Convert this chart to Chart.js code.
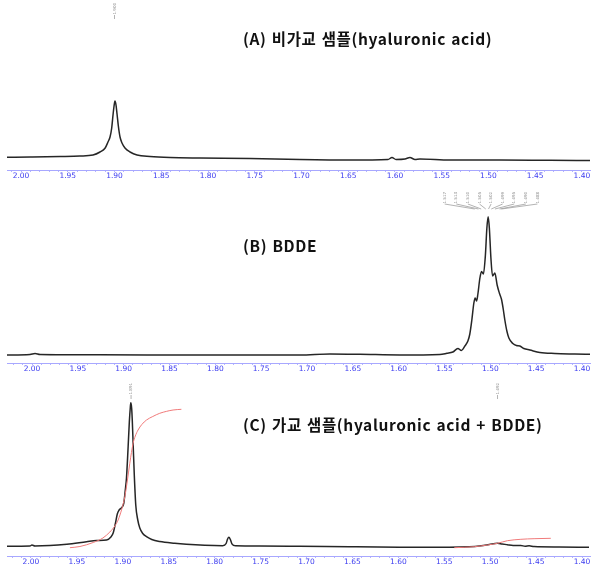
<!DOCTYPE html>
<html>
<head>
<meta charset="utf-8">
<script src="https://cdn.jsdelivr.net/npm/chart.js@4.4.1/dist/chart.umd.min.js"></script>
<style>
  body { margin: 0; background: #fff; }
  #wrap { position: relative; width: 595px; height: 567px; overflow: hidden; }
  canvas { position: absolute; left: 0; }
  .title {
    position: absolute; left: 243px; white-space: nowrap;
    font-family: "Noto Sans CJK KR", "Noto Sans", sans-serif;
    font-weight: bold; font-size: 15.5px; color: #111; line-height: 18px;
    letter-spacing: 0.65px; word-spacing: 1px;
  }
</style>
</head>
<body>
<div id="wrap">
  <canvas id="chartA" width="595" height="185" style="top:0px"></canvas>
  <canvas id="chartB" width="595" height="193" style="top:185px"></canvas>
  <canvas id="chartC" width="595" height="189" style="top:378px"></canvas>
  <div class="title" id="titleA" style="top:29px"></div>
  <div class="title" id="titleB" style="top:236px"></div>
  <div class="title" id="titleC" style="top:415px"></div>
</div>
<script>
// (A) hyaluronic acid - chemical shift (ppm) and intensity
var ppmA = [2.015, 1.990, 1.958, 1.937, 1.923, 1.9155, 1.910, 1.907, 1.9048, 1.903, 1.9016, 1.9005,
    1.8995, 1.8984, 1.8973, 1.8959, 1.8941, 1.892, 1.8888, 1.8834, 1.8759, 1.862, 1.8406, 1.8086,
    1.7551, 1.7016, 1.6481, 1.6075, 1.6032, 1.5989, 1.5893, 1.584, 1.5786, 1.5733, 1.5412,
    1.4877, 1.4342, 1.3914];
var intA = [0.7, 1.0, 1.5, 2.0, 3, 6, 10, 16, 21, 30, 43, 52,
    57, 53, 44, 32, 21, 15, 10, 6, 3, 1.5, 0.5, 0,
    -0.5, -1.5, -2, -1.5, 0.5, -1.5, -1, 0.5, -1.5, -1, -2,
    -2, -2.3, -2.5];

// (B) BDDE
var ppmB = [2.0273, 2.0022, 1.9967, 1.9913, 1.9258, 1.8168, 1.7077, 1.675, 1.6423, 1.5987, 1.5551,
    1.5474, 1.5409, 1.5354, 1.5316, 1.5278, 1.5245, 1.5224, 1.5202, 1.518, 1.5166, 1.515, 1.5136,
    1.5114, 1.5096, 1.5076, 1.5054, 1.5038, 1.5024, 1.5011, 1.4994, 1.4976, 1.4951, 1.4926, 1.4902,
    1.4878, 1.4858, 1.4842, 1.482, 1.4798, 1.4755, 1.4716, 1.4678, 1.4635, 1.4569, 1.446, 1.4297,
    1.4079, 1.3913];
var intB = [-0.5, 0, 1, 0, -0.3, -0.5, -0.5, 0.5, 0.2, -0.5, 0,
    1.2, 2.5, 6, 4, 8.5, 13.5, 20.5, 34.5, 51.5, 56.5, 53.5, 60.5,
    76.5, 83, 80.5, 99.5, 126.5, 137.8, 126.5, 96.5, 78.5, 81.5, 69.5, 61.5,
    55, 44.5, 34.5, 23.5, 16.5, 11, 9, 8.5, 6, 4.5, 2, 1,
    0.5, 0.2];

// (C) crosslinked sample (hyaluronic acid + BDDE)
var ppmC = [2.0261, 2.0011, 1.9989, 1.9957, 1.9609, 1.9395, 1.9286, 1.9177, 1.913, 1.9105, 1.9082,
    1.906, 1.904, 1.9016, 1.8989, 1.8973, 1.896, 1.8942, 1.8929, 1.8918, 1.8913, 1.8904, 1.8897,
    1.8886, 1.8875, 1.8859, 1.8837, 1.8815, 1.8783, 1.8742, 1.8685, 1.8598, 1.8435, 1.8308, 1.8109,
    1.7913, 1.7875, 1.7859, 1.7845, 1.7829, 1.7812, 1.7772, 1.7511, 1.7076, 1.6533, 1.5989, 1.5446,
    1.5228, 1.5098, 1.5011, 1.4921, 1.487, 1.4815, 1.475, 1.4666, 1.462, 1.4576, 1.4522, 1.425, 1.3924];
var intC = [0.2, 0.5, 1.5, 0.5, 2.2, 4.8, 6, 6.5, 9.5, 13.5, 22.5,
    32.5, 36.5, 38.5, 43.5, 56.5, 68.5, 99.8, 124.5, 139.5, 143.8, 138.5, 126.5,
    98.5, 71.5, 41.5, 26.5, 18.5, 13, 9.8, 7, 5, 3.2, 2.2, 1.2,
    0.8, 3, 7.5, 9.2, 7, 2.7, 0.7, 0.5, 0.2, -0.3, -0.7, -0.8,
    -0.3, 0.8, 2, 3.2, 2.5, 1.8, 1, 1, 0.2, 0.7, -0.1, -0.5, -0.8];

// (C) integral traces (red)
var ppmIntC1 = [1.9576, 1.9467, 1.9323, 1.9217, 1.9141, 1.9087, 1.9051, 1.9011, 1.8978, 1.8951,
    1.8924, 1.8888, 1.8864, 1.8834, 1.8793, 1.8742, 1.8674, 1.8598, 1.8522, 1.8453, 1.8362];
var valIntC1 = [-1.2, 0, 4, 8.5, 14.5, 20.5, 26.5, 37.5, 49.8, 65.5,
    83.2, 103.2, 110.5, 116.5, 122, 126.5, 130, 133.2, 135.2, 136.5, 137.2];
var ppmIntC2 = [1.5391, 1.5174, 1.5029, 1.4921, 1.4812, 1.4666, 1.4522, 1.434];
var valIntC2 = [-1.2, -0.2, 1.5, 3.2, 5.8, 7.2, 7.8, 8.2];

// peak pick labels
var peaksA = [1.900];
var peaksB = [1.517, 1.513, 1.510, 1.505, 1.502, 1.499, 1.495, 1.490, 1.488];
var peaksC = [1.891, 1.492];

var titles = [
    "(A)  비가교  샘플(hyaluronic acid)",
    "(B)  BDDE",
    "(C)  가교  샘플(hyaluronic acid  +  BDDE)"
];

document.getElementById("titleA").textContent = titles[0];
document.getElementById("titleB").textContent = titles[1];
document.getElementById("titleC").textContent = titles[2];

function toPoints(xs, ys) {
    return xs.map(function(x, i) { return { x: x, y: ys[i] }; });
}

// small rotated peak-pick labels with leader lines
var peakLabelPlugin = {
    id: "peakLabels",
    afterDatasetsDraw: function(chart, args, o) {
        if (!o.values || !o.values.length) return;
        var ctx = chart.ctx;
        var xs = chart.scales.x;
        var n = o.values.length;
        var pix = o.values.map(function(v) { return xs.getPixelForValue(v); });
        var center = (pix[0] + pix[n - 1]) / 2 + (o.shift || 0);
        ctx.save();
        ctx.font = "4px 'DejaVu Sans'";
        ctx.fillStyle = "#8a8a8a";
        ctx.strokeStyle = "#a0a0a0";
        ctx.lineWidth = 0.8;
        ctx.textBaseline = "middle";
        ctx.textAlign = "right";
        o.values.forEach(function(v, i) {
            var lx = o.spread ? center + (i - (n - 1) / 2) * o.spread : pix[i];
            ctx.save();
            ctx.translate(lx, o.textTop);
            ctx.rotate(-Math.PI / 2);
            ctx.fillText(v.toFixed(3), 0, 0);
            ctx.restore();
            ctx.beginPath();
            ctx.moveTo(lx, o.lineTop);
            ctx.lineTo(pix[i], o.lineBottom);
            ctx.stroke();
        });
        ctx.restore();
    }
};

function makePanel(id, datasets, cfg) {
    var ctx = document.getElementById(id).getContext("2d");
    return new Chart(ctx, {
        type: "line",
        data: { datasets: datasets },
        plugins: [peakLabelPlugin],
        options: {
            responsive: false,
            animation: false,
            events: [],
            layout: { padding: { left: 7, right: 5, top: cfg.padTop, bottom: 0 } },
            elements: { point: { radius: 0 }, line: { cubicInterpolationMode: "monotone" } },
            plugins: {
                legend: { display: false },
                tooltip: { enabled: false },
                peakLabels: cfg.peaks
            },
            scales: {
                x: {
                    type: "linear",
                    reverse: true,
                    min: cfg.xMin,
                    max: cfg.xMax,
                    afterFit: function(scale) { scale.height = cfg.axisHeight; },
                    grid: { drawOnChartArea: false, drawTicks: true, tickLength: 2, color: "#b4b4ff", lineWidth: 1 },
                    border: { display: true, color: "#a8a8ff", width: 1 },
                    ticks: {
                        stepSize: 0.01,
                        includeBounds: false,
                        autoSkip: false,
                        maxRotation: 0,
                        maxTicksLimit: 100,
                        padding: 0,
                        color: "#3c3cf0",
                        font: { family: "DejaVu Sans", size: 7.5 },
                        callback: function(v) {
                            return Math.round(v * 100) % 5 === 0 ? v.toFixed(2) : "";
                        }
                    }
                },
                y: { display: false, min: cfg.yMin, max: cfg.yMax }
            }
        }
    });
}

var specStyle = { borderColor: "#262626", borderWidth: 1.5, fill: false };

makePanel("chartA", [
    Object.assign({ data: toPoints(ppmA, intA) }, specStyle)
], { xMin: 1.3914, xMax: 2.015, yMin: -12, yMax: 138, padTop: 20, axisHeight: 15,
     peaks: { values: peaksA, textTop: 3, lineTop: 15, lineBottom: 19 } });

makePanel("chartB", [
    Object.assign({ data: toPoints(ppmB, intB) }, specStyle)
], { xMin: 1.3913, xMax: 2.0273, yMin: -8.5, yMax: 149.5, padTop: 20, axisHeight: 15,
     peaks: { values: peaksB, textTop: 7, lineTop: 19, lineBottom: 24, spread: 11.6, shift: 3 } });

makePanel("chartC", [
    { data: toPoints(ppmIntC1, valIntC1), borderColor: "#f07a7a", borderWidth: 1, fill: false },
    { data: toPoints(ppmIntC2, valIntC2), borderColor: "#f07a7a", borderWidth: 1, fill: false },
    Object.assign({ data: toPoints(ppmC, intC) }, specStyle)
], { xMin: 1.3913, xMax: 2.0261, yMin: -9.5, yMax: 153.5, padTop: 15, axisHeight: 11,
     peaks: { values: peaksC, textTop: 5, lineTop: 17, lineBottom: 21 } });
</script>
</body>
</html>
